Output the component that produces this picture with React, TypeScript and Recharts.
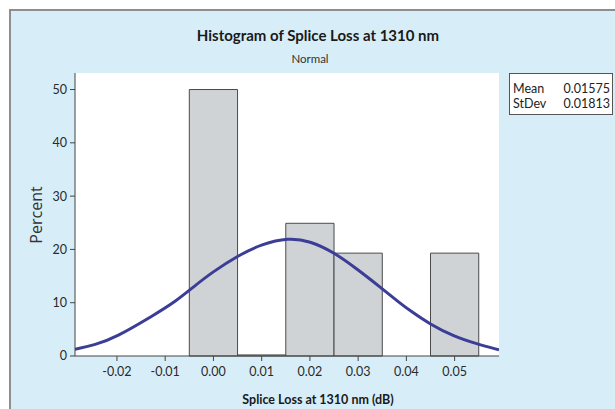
import React from 'react';
import { ComposedChart, Line, XAxis, YAxis, CartesianGrid, ReferenceArea } from 'recharts';

// histogram bins (centre of bin, percent), bin width 0.01
const binCenters = [0.0, 0.01, 0.02, 0.03, 0.05];
const binPercents = [50, 0.2, 24.9, 19.3, 19.3];
const binWidth = 0.01;

// fitted normal curve
const fitX = [
  -0.0287, -0.0245, -0.0204, -0.0121, -0.0079, -0.0041, -0.0003, 0.0052, 0.01, 0.0155,
  0.02, 0.0249, 0.0298, 0.0346, 0.0387, 0.0408, 0.045, 0.0498, 0.0546, 0.0592,
];
const fitY = [
  1.27, 2.1, 3.4, 7.8, 10.2, 13.0, 15.7, 18.9, 21.0, 22.2,
  21.6, 19.5, 16.3, 12.9, 9.9, 8.5, 5.9, 3.7, 2.27, 1.14,
];

const xTicks = [-0.02, -0.01, 0.0, 0.01, 0.02, 0.03, 0.04, 0.05];
const yTicks = [0, 10, 20, 30, 40, 50];
const xDomain = [-0.0287, 0.0592];
const yDomain = [0, 53.1];

const statLabels = ['Mean', 'StDev'];
const statValues = ['0.01575', '0.01813'];

const fitData = fitX.map((x, i) => ({ x, fit: fitY[i] }));

const FONT = 'Lato, "Open Sans", sans-serif';
const tickStyle = { fontSize: 12.5, fill: '#2a2a2a', fontFamily: FONT };

export default function App() {
  return (
    <div style={{ position: 'absolute', left: 0, top: 0, width: 615, height: 409, background: '#fff', overflow: 'hidden' }}>
      <div
        style={{
          position: 'absolute', left: 9, top: 9, width: 606, height: 400,
          background: '#d7eef9', borderTop: '2px solid #8e8e8e', borderLeft: '2px solid #8e8e8e',
        }}
      />
      <div style={{ position: 'absolute', left: 0, top: 26, width: 636, textAlign: 'center', fontFamily: FONT, fontWeight: 700, fontSize: 15, color: '#1a1a1a' }}>
        Histogram of Splice Loss at 1310 nm
      </div>
      <div style={{ position: 'absolute', left: 0, top: 52, width: 620, textAlign: 'center', fontFamily: FONT, fontSize: 11.5, color: '#333' }}>
        Normal
      </div>
      {/* y axis title */}
      <div
        style={{
          position: 'absolute', left: -14, top: 205, width: 100, height: 20, lineHeight: '20px',
          textAlign: 'center', transform: 'rotate(-90deg)', fontFamily: '"Open Sans", sans-serif',
          fontSize: 16, color: '#333',
        }}
      >
        Percent
      </div>

      <div
        style={{
          position: 'absolute', left: 509, top: 73, width: 104, height: 42, background: '#fff',
          border: '1px solid #555', fontFamily: FONT, fontSize: 12.5, color: '#222', lineHeight: '15px',
          padding: '7px 2px 0 3px', boxSizing: 'border-box',
        }}
      >
        {statLabels.map((s, i) => (
          <div key={s} style={{ display: 'flex', justifyContent: 'space-between' }}>
            <span>{s}</span>
            <span>{statValues[i]}</span>
          </div>
        ))}
      </div>

      <div style={{ position: 'absolute', left: 0, top: 0 }}>
        <ComposedChart width={615} height={409} data={fitData} margin={{ top: 73, right: 116, bottom: 3, left: 20 }}>
          <CartesianGrid fill="#fff" horizontal={false} vertical={false} />
          <XAxis
            dataKey="x"
            type="number"
            domain={xDomain}
            ticks={xTicks}
            allowDataOverflow
            height={50}
            tick={tickStyle}
            tickFormatter={(v: number) => v.toFixed(2)}
            tickSize={5}
            tickMargin={6}
            stroke="#444"
            label={{
              value: 'Splice Loss at 1310 nm (dB)', position: 'insideBottom', offset: 2, dx: 31,
              style: { fontSize: 12.5, fontWeight: 700, fill: '#1a1a1a', fontFamily: FONT },
            }}
          />
          <XAxis xAxisId="top" orientation="top" type="number" domain={xDomain} height={0} tick={false} tickLine={false} stroke="#666" />
          <YAxis
            type="number"
            domain={yDomain}
            ticks={yTicks}
            allowDataOverflow
            width={55}
            tick={tickStyle}
            tickSize={5}
            tickMargin={3}
            stroke="#444"
          />
          <YAxis yAxisId="right" orientation="right" domain={yDomain} width={0} tick={false} tickLine={false} stroke="#666" />
          {binCenters.map((c, i) => (
            <ReferenceArea
              key={c}
              x1={c - binWidth / 2}
              x2={c + binWidth / 2}
              y1={0}
              y2={binPercents[i]}
              fill="#d0d3d6"
              fillOpacity={1}
              stroke="#4a4a4a"
              strokeWidth={1}
            />
          ))}
          <Line
            dataKey="fit"
            type="basis"
            stroke="#3b3d96"
            strokeWidth={3}
            dot={false}
            activeDot={false}
            isAnimationActive={false}
          />
        </ComposedChart>
      </div>
    </div>
  );
}
